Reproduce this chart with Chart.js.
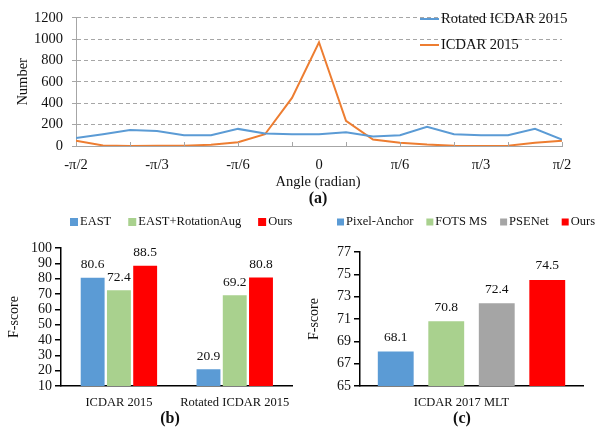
<!DOCTYPE html>
<html>
<head>
<meta charset="utf-8">
<script src="https://cdn.jsdelivr.net/npm/chart.js@4.4.1/dist/chart.umd.min.js"></script>
<style>
  html, body { margin: 0; padding: 0; background: #fff; }
  #wrap { position: relative; width: 597px; height: 430px; overflow: hidden; }
  canvas { position: absolute; }
</style>
</head>
<body>
<div id="wrap">
  <canvas id="angleChart" width="597" height="210" style="left:0;top:0"></canvas>
  <canvas id="ic15Chart" width="300" height="230" style="left:0;top:200px"></canvas>
  <canvas id="mltChart" width="297" height="230" style="left:300px;top:200px"></canvas>
</div>
<script>
const FONT = '"Liberation Serif", "Times New Roman", serif';

// (a) distribution of text angles
const angles = [-90, -80, -70, -60, -50, -40, -30, -20, -10, 0, 10, 20, 30, 40, 50, 60, 70, 80, 90];
const angleTickLabels = ['-π/2', '-π/3', '-π/6', '0', 'π/6', 'π/3', 'π/2'];
const rotatedCounts = [75, 110, 150, 140, 100, 100, 160, 117, 110, 110, 128, 90, 100, 180, 110, 100, 100, 160, 60];
const icdarCounts = [50, 5, 0, 2, 3, 12, 35, 110, 450, 970, 235, 60, 30, 13, 3, 0, 3, 30, 50];

// (b) ICDAR 2015 vs rotated
const ic15Categories = ['ICDAR 2015', 'Rotated ICDAR 2015'];
const eastScores = [80.6, 20.9];
const eastAugScores = [72.4, 69.2];
const oursScores = [88.5, 80.8];

// (c) ICDAR 2017 MLT
const mltCategories = ['ICDAR 2017 MLT'];
const mltMethods = ['Pixel-Anchor', 'FOTS MS', 'PSENet', 'Ours'];
const mltScores = [68.1, 70.8, 72.4, 74.5];

const BLUE = '#5B9BD5', ORANGE = '#ED7D31', GREEN = '#A9D18E', GREY = '#A5A5A5', RED = '#FF0000';
const mltColors = [BLUE, GREEN, GREY, RED];

Chart.defaults.font.family = FONT;
Chart.defaults.color = '#111';
Chart.defaults.animation = false;

// legend, value labels, tick marks and captions drawn straight on the canvas
const decor = {
  id: 'decor',
  afterDatasetsDraw(chart, args, opts) {
    const ctx = chart.ctx;
    ctx.save();
    ctx.fillStyle = '#111';

    if (opts.valueLabels) {
      ctx.font = opts.valueLabels.font;
      ctx.textAlign = 'center';
      ctx.textBaseline = 'middle';
      chart.data.datasets.forEach((ds, i) => {
        chart.getDatasetMeta(i).data.forEach((bar, j) => {
          ctx.fillText(ds.data[j].toFixed(1), bar.x, bar.y - opts.valueLabels.offset);
        });
      });
    }

    if (opts.tickMarks) {
      const xs = chart.scales.x, bottom = chart.chartArea.bottom;
      ctx.strokeStyle = opts.tickMarks.color;
      ctx.lineWidth = 1;
      for (let v = opts.tickMarks.from; v <= opts.tickMarks.to; v += opts.tickMarks.step) {
        const px = Math.round(xs.getPixelForValue(v)) + 0.5;
        ctx.beginPath();
        ctx.moveTo(px, bottom);
        ctx.lineTo(px, bottom - opts.tickMarks.len);
        ctx.stroke();
      }
    }

    const L = opts.legend;
    if (L && L.type === 'line') {
      ctx.font = L.font;
      ctx.textAlign = 'left';
      ctx.textBaseline = 'middle';
      chart.data.datasets.forEach((ds, i) => {
        const y = L.y + i * L.rowGap;
        ctx.strokeStyle = ds.borderColor;
        ctx.lineWidth = 2;
        ctx.beginPath();
        ctx.moveTo(L.x, y);
        ctx.lineTo(L.x + L.lineLen, y);
        ctx.stroke();
        ctx.fillStyle = '#111';
        ctx.fillText(ds.label, L.x + L.lineLen + 2, y);
      });
    } else if (L && L.type === 'box') {
      ctx.font = L.font;
      ctx.textAlign = 'left';
      ctx.textBaseline = 'middle';
      let x = L.x;
      chart.data.datasets.forEach(ds => {
        ctx.fillStyle = ds.backgroundColor;
        ctx.fillRect(x, L.y - L.box / 2, L.box, L.box);
        ctx.fillStyle = '#111';
        ctx.fillText(ds.label, x + L.box + L.textGap, L.y);
        x += L.box + L.textGap + ctx.measureText(ds.label).width + L.itemGap;
      });
    }

    (opts.texts || []).forEach(t => {
      ctx.fillStyle = '#111';
      ctx.font = t.font;
      ctx.textAlign = 'center';
      ctx.textBaseline = 'middle';
      ctx.fillText(t.text, t.x, t.y);
    });
    ctx.restore();
  }
};

// ---- (a) line chart ----
new Chart(document.getElementById('angleChart'), {
  type: 'line',
  data: {
    datasets: [
      {
        label: 'Rotated ICDAR 2015',
        data: angles.map((a, i) => ({ x: a, y: rotatedCounts[i] })),
        borderColor: BLUE,
        borderWidth: 2,
        pointRadius: 0,
        tension: 0
      },
      {
        label: 'ICDAR 2015',
        data: angles.map((a, i) => ({ x: a, y: icdarCounts[i] })),
        borderColor: ORANGE,
        borderWidth: 2,
        pointRadius: 0,
        tension: 0
      }
    ]
  },
  options: {
    responsive: false,
    layout: { padding: { left: 0, right: 35, top: 13, bottom: 0 } },
    scales: {
      x: {
        type: 'linear',
        min: -90,
        max: 90,
        afterFit: s => { s.height = 64; },
        grid: { display: false, drawTicks: false },
        border: { display: true, color: '#A6A6A6', width: 1 },
        ticks: {
          stepSize: 30,
          autoSkip: false,
          maxRotation: 0,
          padding: 10,
          font: { size: 14.5 },
          callback: v => angleTickLabels[(v + 90) / 30]
        }
      },
      y: {
        min: 0,
        max: 1200,
        afterFit: s => { s.width = 76; },
        grid: { color: '#A6A6A6', lineWidth: 1, drawTicks: true, tickLength: 4, tickColor: '#A6A6A6' },
        border: { display: true, color: '#A6A6A6', dash: [4, 3] },
        ticks: { stepSize: 200, padding: 9, font: { size: 14.5 }, callback: v => String(v) },
        title: { display: true, text: 'Number', font: { size: 14.5 }, padding: { top: 14, bottom: 0 } }
      }
    },
    plugins: {
      legend: { display: false },
      tooltip: { enabled: false },
      decor: {
        tickMarks: { from: -70, to: 90, step: 20, len: 4, color: '#A6A6A6' },
        legend: { type: 'line', x: 420, y: 19, rowGap: 26, lineLen: 19, font: '14.5px ' + FONT },
        texts: [
          { text: 'Angle (radian)', x: 318, y: 182, font: '14.5px ' + FONT },
          { text: '(a)', x: 318, y: 199, font: 'bold 16px ' + FONT }
        ]
      }
    }
  },
  plugins: [decor]
});

// ---- shared bar chart axis settings ----
function barScales(yMin, yMax, yStep, leftW, labelShift) {
  return {
    x: {
      afterFit: s => { s.height = 44; },
      grid: { display: false, drawTicks: false },
      border: { display: true, color: '#000', width: 1.5 },
      ticks: { padding: 9, font: { size: 12.5 }, labelOffset: labelShift, maxRotation: 0 }
    },
    y: {
      min: yMin,
      max: yMax,
      afterFit: s => { s.width = leftW; },
      grid: { drawOnChartArea: false, drawTicks: true, tickLength: 6, color: '#000', lineWidth: 1.5 },
      border: { display: true, color: '#000', width: 1.5 },
      ticks: { stepSize: yStep, autoSkip: false, padding: 3, font: { size: 14 } },
      title: { display: true, text: 'F-score', font: { size: 14 }, padding: { top: 6, bottom: 0 } }
    }
  };
}

// ---- (b) ----
new Chart(document.getElementById('ic15Chart'), {
  type: 'bar',
  data: {
    labels: ic15Categories,
    datasets: [
      { label: 'EAST', data: eastScores, backgroundColor: BLUE },
      { label: 'EAST+RotationAug', data: eastAugScores, backgroundColor: GREEN },
      { label: 'Ours', data: oursScores, backgroundColor: RED }
    ]
  },
  options: {
    responsive: false,
    layout: { padding: { left: 0, right: 7, top: 48, bottom: 0 } },
    datasets: { bar: { categoryPercentage: 0.68, barPercentage: 0.91 } },
    scales: barScales(10, 100, 10, 61, 0),
    plugins: {
      legend: { display: false },
      tooltip: { enabled: false },
      decor: {
        valueLabels: { font: '13.5px ' + FONT, offset: 13 },
        legend: { type: 'box', x: 70, y: 22, box: 8, textGap: 2, itemGap: 17, font: '12.5px ' + FONT },
        texts: [{ text: '(b)', x: 170, y: 219, font: 'bold 16px ' + FONT }]
      }
    }
  },
  plugins: [decor]
});

// ---- (c) ----
new Chart(document.getElementById('mltChart'), {
  type: 'bar',
  data: {
    labels: mltCategories,
    datasets: mltMethods.map((m, i) => ({
      label: m,
      data: [mltScores[i]],
      backgroundColor: mltColors[i]
    }))
  },
  options: {
    responsive: false,
    layout: { padding: { left: 0, right: 14, top: 52, bottom: 0 } },
    datasets: { bar: { categoryPercentage: 0.906, barPercentage: 0.71 } },
    scales: barScales(65, 77, 2, 60, -10),
    plugins: {
      legend: { display: false },
      tooltip: { enabled: false },
      decor: {
        valueLabels: { font: '13.5px ' + FONT, offset: 14 },
        legend: { type: 'box', x: 37, y: 22, box: 7, textGap: 2, itemGap: 13, font: '12.5px ' + FONT },
        texts: [{ text: '(c)', x: 162, y: 219, font: 'bold 16px ' + FONT }]
      }
    }
  },
  plugins: [decor]
});
</script>
</body>
</html>
